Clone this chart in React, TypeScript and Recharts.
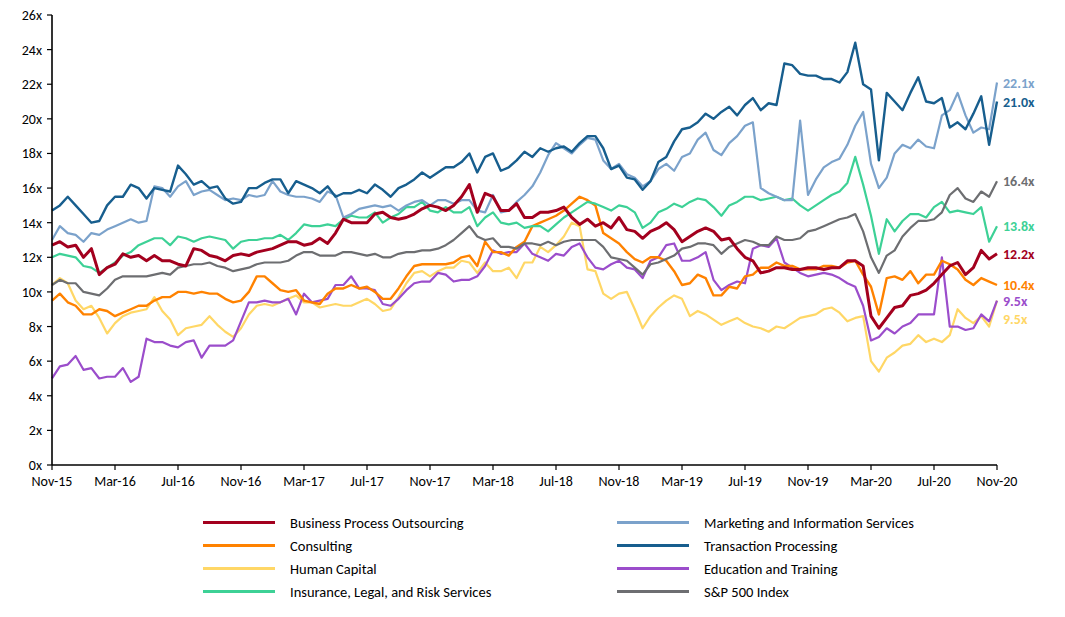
import React from "react";
import { LineChart, Line, XAxis, YAxis } from "recharts";

// semi-monthly observations, Nov-15 .. Nov-20 (121 points)
const MONTHS = ["Jan", "Feb", "Mar", "Apr", "May", "Jun", "Jul", "Aug", "Sep", "Oct", "Nov", "Dec"];
const Y_TICKS = [0, 2, 4, 6, 8, 10, 12, 14, 16, 18, 20, 22, 24, 26];

const BPO = [
  12.7, 12.9, 12.6, 12.7, 12.0, 12.5, 11.0, 11.4, 11.6, 12.2,
  12.0, 12.1, 11.8, 12.1, 11.8, 11.8, 11.6, 11.5, 12.5, 12.4,
  12.1, 12.0, 11.8, 12.1, 12.2, 12.1, 12.3, 12.4, 12.5, 12.7,
  12.9, 12.9, 12.7, 12.8, 13.1, 12.8, 13.4, 14.2, 14.0, 14.0,
  14.0, 14.5, 14.6, 14.3, 14.2, 14.3, 14.5, 14.8, 15.0, 14.9,
  14.7, 15.0, 15.5, 16.2, 14.6, 15.7, 15.5, 14.7, 14.7, 15.1,
  14.3, 14.3, 14.6, 14.6, 14.7, 14.9, 14.3, 13.9, 14.2, 13.8,
  14.0, 13.7, 14.3, 13.6, 13.5, 13.1, 13.5, 13.7, 14.0, 13.6,
  12.9, 13.2, 13.5, 13.7, 13.5, 13.0, 13.1, 12.5, 12.0, 11.8,
  11.1, 11.2, 11.4, 11.4, 11.3, 11.3, 11.4, 11.4, 11.3, 11.4,
  11.4, 11.8, 11.8, 11.5, 8.6, 7.9, 8.5, 9.1, 9.2, 9.8,
  9.9, 10.1, 10.5, 11.0, 11.5, 11.7, 11.0, 11.4, 12.4, 11.9, 12.2,
];

const CONSULTING = [
  9.5, 9.9, 9.4, 9.2, 8.7, 8.7, 9.0, 8.9, 8.6, 8.8,
  9.0, 9.2, 9.2, 9.5, 9.7, 9.7, 10.0, 10.0, 9.9, 10.0,
  9.9, 9.9, 9.6, 9.4, 9.5, 10.0, 10.9, 10.9, 10.5, 10.1,
  10.0, 10.1, 9.5, 9.4, 9.3, 9.9, 10.2, 10.2, 10.4, 10.2,
  10.3, 10.0, 9.6, 9.6, 10.2, 10.9, 11.5, 11.6, 11.6, 11.6,
  11.6, 11.7, 12.0, 12.1, 11.5, 12.9, 12.3, 12.3, 12.1, 12.6,
  12.9, 13.8, 14.0, 14.2, 14.4, 14.7, 15.1, 15.5, 15.3, 15.0,
  13.4, 13.1, 12.8, 12.3, 11.9, 11.7, 12.0, 12.0, 11.8, 11.2,
  10.4, 10.5, 11.0, 10.8, 9.8, 9.8, 10.3, 10.2, 10.9, 11.0,
  11.4, 11.4, 11.7, 11.5, 11.5, 11.3, 11.3, 11.3, 11.5, 11.5,
  11.4, 11.7, 11.8, 11.0, 10.3, 8.7, 10.8, 10.9, 10.7, 11.2,
  10.5, 11.0, 11.0, 11.8, 11.6, 11.3, 10.7, 10.4, 10.8, 10.6, 10.4,
];

const HUMAN_CAPITAL = [
  10.4, 10.8, 10.5, 9.5, 9.0, 9.2, 8.5, 7.6, 8.2, 8.6,
  8.8, 8.9, 9.0, 9.7, 8.9, 8.4, 7.5, 7.9, 8.0, 8.1,
  8.6, 8.1, 7.7, 7.4, 7.9, 8.7, 9.2, 9.3, 9.2, 9.4,
  9.6, 9.8, 9.4, 9.4, 9.1, 9.2, 9.3, 9.2, 9.2, 9.4,
  9.6, 9.3, 8.9, 9.0, 9.7, 10.5, 11.1, 11.2, 10.9, 11.2,
  11.4, 11.4, 11.8, 11.7, 11.1, 11.7, 11.2, 11.2, 11.4, 10.8,
  11.7, 11.7, 12.6, 12.3, 12.7, 13.2, 14.0, 13.8, 11.3, 11.2,
  9.9, 9.6, 9.9, 10.0, 9.0, 7.9, 8.6, 9.1, 9.5, 9.8,
  9.6, 8.6, 8.9, 8.7, 8.4, 8.1, 8.3, 8.5, 8.2, 8.0,
  7.9, 7.7, 8.0, 7.9, 8.2, 8.5, 8.6, 8.7, 9.0, 9.1,
  8.8, 8.3, 8.5, 8.6, 6.0, 5.4, 6.2, 6.5, 6.9, 7.0,
  7.5, 7.1, 7.3, 7.1, 7.5, 9.0, 8.5, 8.2, 8.6, 8.0, 9.5,
];

const INSURANCE = [
  12.0, 12.2, 12.1, 12.0, 11.5, 11.4, 11.1, 11.4, 11.7, 12.1,
  12.3, 12.7, 12.9, 13.1, 13.1, 12.7, 13.2, 13.1, 12.9, 13.1,
  13.2, 13.1, 13.0, 12.5, 12.9, 13.0, 13.0, 13.1, 13.1, 13.3,
  13.0, 13.4, 13.9, 13.8, 13.8, 13.9, 13.8, 14.2, 14.4, 14.3,
  14.3, 14.6, 14.0, 14.3, 14.5, 14.9, 14.9, 15.2, 14.7, 14.6,
  14.9, 14.6, 14.6, 14.9, 13.8, 14.3, 14.6, 14.0, 13.9, 14.0,
  13.7, 13.8, 13.8, 13.5, 13.9, 14.3, 14.6, 14.9, 15.2, 15.1,
  14.9, 14.7, 15.0, 14.9, 14.6, 13.7, 14.0, 14.6, 14.8, 15.1,
  14.9, 15.2, 15.4, 15.3, 14.9, 14.4, 15.0, 15.2, 15.5, 15.5,
  15.3, 15.4, 15.5, 15.3, 15.4, 15.0, 14.7, 15.0, 15.3, 15.6,
  15.8, 16.3, 17.8, 16.2, 14.4, 12.2, 14.2, 13.5, 14.1, 14.5,
  14.5, 14.3, 14.9, 15.2, 14.6, 14.7, 14.6, 14.5, 14.9, 12.9, 13.8,
];

const MARKETING = [
  13.0, 13.8, 13.4, 13.3, 12.9, 13.4, 13.3, 13.6, 13.8, 14.0,
  14.2, 14.0, 14.1, 16.1, 16.0, 15.5, 16.1, 16.4, 15.6, 15.8,
  15.9, 15.6, 15.3, 15.4, 15.3, 15.6, 15.5, 15.6, 16.4, 15.8,
  15.6, 15.5, 15.5, 15.4, 15.2, 15.8, 15.6, 14.3, 14.5, 14.8,
  14.9, 15.0, 14.9, 15.0, 14.7, 15.0, 15.2, 15.3, 15.0, 15.3,
  15.3, 15.1, 15.3, 15.3, 14.7, 14.6, 15.6, 14.6, 14.7, 15.2,
  15.6, 16.1, 16.9, 17.9, 18.6, 18.3, 18.0, 18.5, 18.9, 18.8,
  17.6, 17.1, 17.4, 16.8, 16.6, 16.1, 16.4, 17.1, 17.4, 17.0,
  17.8, 18.0, 18.8, 19.2, 18.2, 17.9, 18.6, 19.0, 19.6, 19.8,
  16.0, 15.7, 15.5, 15.3, 15.3, 19.9, 15.6, 16.5, 17.2, 17.5,
  17.7, 18.5, 19.6, 20.4, 17.4, 16.0, 16.6, 18.0, 18.5, 18.3,
  18.8, 18.4, 18.3, 20.2, 20.5, 21.5, 20.2, 19.2, 19.5, 19.4, 22.1,
];

const TRANSACTION = [
  14.7, 15.0, 15.5, 15.0, 14.5, 14.0, 14.1, 15.0, 15.5, 15.5,
  16.2, 16.0, 15.4, 16.0, 15.9, 15.8, 17.3, 16.8, 16.2, 16.4,
  16.0, 16.1, 15.4, 15.1, 15.2, 16.0, 16.0, 16.3, 16.5, 16.5,
  15.7, 16.4, 16.2, 16.0, 15.7, 16.1, 15.5, 15.7, 15.7, 15.9,
  15.7, 16.2, 15.9, 15.5, 16.0, 16.2, 16.5, 16.9, 16.6, 16.9,
  17.2, 17.2, 17.5, 18.0, 16.9, 17.8, 18.0, 17.0, 17.2, 17.6,
  18.1, 17.8, 18.3, 18.1, 18.3, 18.4, 18.1, 18.6, 19.0, 19.0,
  18.3, 17.1, 17.3, 16.6, 16.5, 15.9, 16.4, 17.5, 17.8, 18.7,
  19.4, 19.5, 19.8, 20.3, 20.0, 20.4, 20.7, 20.2, 20.8, 21.2,
  20.5, 20.9, 20.8, 23.2, 23.1, 22.6, 22.5, 22.5, 22.3, 22.3,
  22.1, 22.7, 24.4, 22.0, 21.7, 17.6, 21.5, 21.0, 20.5, 21.5,
  22.4, 21.0, 20.9, 21.2, 19.5, 19.8, 19.4, 20.3, 21.3, 18.5, 21.0,
];

const EDUCATION = [
  5.0, 5.7, 5.8, 6.3, 5.5, 5.6, 5.0, 5.1, 5.1, 5.6,
  4.8, 5.1, 7.3, 7.1, 7.1, 6.9, 6.8, 7.1, 7.2, 6.2,
  6.9, 6.9, 6.9, 7.2, 8.3, 9.4, 9.4, 9.5, 9.4, 9.4,
  9.6, 8.7, 9.9, 9.4, 9.5, 9.6, 10.4, 10.4, 10.9, 10.2,
  10.2, 10.1, 9.3, 9.2, 9.6, 10.1, 10.5, 10.6, 10.6, 11.1,
  11.0, 10.6, 10.7, 10.7, 10.9, 11.5, 12.4, 12.2, 12.3, 12.3,
  12.8, 12.2, 12.0, 11.8, 12.2, 12.1, 12.6, 12.8, 12.0, 11.4,
  11.3, 11.6, 11.8, 11.4, 11.3, 10.8, 11.8, 12.0, 12.7, 12.8,
  11.8, 11.8, 12.0, 12.3, 10.7, 10.1, 10.4, 10.6, 10.5, 12.5,
  12.7, 12.6, 13.1, 11.7, 11.4, 11.1, 10.9, 11.0, 11.1, 11.0,
  10.8, 10.5, 10.3, 9.2, 7.2, 7.4, 7.9, 7.6, 8.0, 8.2,
  8.7, 8.7, 8.7, 12.0, 8.0, 8.0, 7.8, 7.9, 8.7, 8.3, 9.5,
];

const SP500 = [
  10.4, 10.7, 10.5, 10.5, 10.0, 9.9, 9.8, 10.2, 10.7, 10.9,
  10.9, 10.9, 10.9, 11.0, 11.1, 11.0, 11.4, 11.5, 11.6, 11.6,
  11.7, 11.5, 11.4, 11.2, 11.3, 11.4, 11.6, 11.7, 11.7, 11.7,
  11.8, 12.1, 12.3, 12.3, 12.1, 12.1, 12.1, 12.3, 12.3, 12.2,
  12.1, 12.2, 12.0, 12.0, 12.2, 12.3, 12.3, 12.4, 12.4, 12.5,
  12.7, 13.0, 13.4, 13.8, 13.2, 13.0, 13.1, 12.6, 12.6, 12.5,
  12.8, 12.8, 12.7, 12.9, 12.7, 12.9, 13.0, 13.0, 13.0, 13.0,
  12.6, 12.0, 11.9, 11.8, 11.4, 11.0, 11.6, 11.7, 11.9, 12.1,
  12.5, 12.6, 12.8, 12.8, 12.7, 12.2, 12.6, 12.8, 13.0, 12.9,
  12.7, 12.7, 13.2, 13.0, 13.0, 13.1, 13.5, 13.6, 13.8, 14.0,
  14.2, 14.3, 14.5, 13.5, 12.0, 11.1, 12.1, 12.4, 13.2, 13.7,
  14.1, 14.1, 14.2, 14.6, 15.6, 16.0, 15.4, 15.2, 15.8, 15.5, 16.4,
];

const SERIES = [
  { key: "hc", name: "Human Capital", values: HUMAN_CAPITAL, color: "#FFD766", width: 2.2, labelDy: 18 },
  { key: "edu", name: "Education and Training", values: EDUCATION, color: "#9B4DCB", width: 2.2, labelDy: 0 },
  { key: "con", name: "Consulting", values: CONSULTING, color: "#FF8200", width: 2.4, labelDy: 0 },
  { key: "ins", name: "Insurance, Legal, and Risk Services", values: INSURANCE, color: "#3DD196", width: 2.2, labelDy: 0 },
  { key: "sp", name: "S&P 500 Index", values: SP500, color: "#6D6E71", width: 2.2, labelDy: 0 },
  { key: "mkt", name: "Marketing and Information Services", values: MARKETING, color: "#7BA2CB", width: 2.2, labelDy: 0 },
  { key: "tp", name: "Transaction Processing", values: TRANSACTION, color: "#175E8E", width: 2.4, labelDy: 0 },
  { key: "bpo", name: "Business Process Outsourcing", values: BPO, color: "#A3001E", width: 3, labelDy: 0 },
];

const LEGEND_LEFT = ["bpo", "con", "hc", "ins"];
const LEGEND_RIGHT = ["mkt", "tp", "edu", "sp"];

const FONT = "Carlito, Calibri, Lato, sans-serif";

function dateLabel(i: number) {
  const m = 10 + Math.floor(i / 2);
  const yr = 15 + Math.floor(m / 12);
  return `${MONTHS[m % 12]}-${yr}`;
}

const data = BPO.map((_, i) => {
  const row: Record<string, string | number> = { date: `${dateLabel(i)}${i % 2 ? " mid" : ""}` };
  SERIES.forEach((s) => {
    row[s.key] = s.values[i];
  });
  return row;
});

const LAST = BPO.length - 1;

function EndLabel(props: any, color: string, dy: number) {
  const { x, y, index, value } = props;
  if (index !== LAST) return null;
  return (
    <text x={x + 6} y={y + dy} dy={5} fill={color} fontSize={14} fontWeight={700} fontFamily={FONT}>
      {Number(value).toFixed(1)}x
    </text>
  );
}

function LegendItem({ k }: { k: string }) {
  const s = SERIES.find((d) => d.key === k)!;
  return (
    <div style={{ display: "flex", alignItems: "center", height: 23 }}>
      <div style={{ width: 72, height: 3, background: s.color, marginRight: 15 }} />
      <span style={{ fontSize: 14.5, color: "#000" }}>{s.name}</span>
    </div>
  );
}

export default function App() {
  return (
    <div style={{ position: "relative", width: 1050, height: 605, fontFamily: FONT }}>
      <LineChart width={1050} height={500} data={data} margin={{ top: 7, right: 61, left: 0, bottom: 13 }}>
        <XAxis
          dataKey="date"
          interval={7}
          tickFormatter={(v: string) => v.replace(" mid", "")}
          axisLine={{ stroke: "#000", strokeWidth: 1.6 }}
          tickLine={{ stroke: "#000", strokeWidth: 1.2 }}
          tickSize={5}
          tickMargin={6}
          tick={{ fill: "#000", fontSize: 14, fontFamily: FONT }}
          height={30}
        />
        <YAxis
          domain={[0, 26]}
          ticks={Y_TICKS}
          interval={0}
          tickFormatter={(v: number) => `${v}x`}
          axisLine={{ stroke: "#000", strokeWidth: 1.6 }}
          tickLine={{ stroke: "#000", strokeWidth: 1.2 }}
          tickSize={5}
          tickMargin={5}
          tick={{ fill: "#000", fontSize: 14, fontFamily: FONT }}
          width={44}
        />
        {SERIES.map((s) => (
          <Line
            key={s.key}
            type="linear"
            dataKey={s.key}
            name={s.name}
            stroke={s.color}
            strokeWidth={s.width}
            strokeLinejoin="round"
            dot={false}
            activeDot={false}
            isAnimationActive={false}
            label={(p: any) => EndLabel(p, s.color, s.labelDy)}
          />
        ))}
      </LineChart>
      <div style={{ position: "absolute", top: 503, left: 195, display: "flex" }}>
        <div style={{ width: 414 }}>
          {LEGEND_LEFT.map((k) => (
            <LegendItem key={k} k={k} />
          ))}
        </div>
        <div>
          {LEGEND_RIGHT.map((k) => (
            <LegendItem key={k} k={k} />
          ))}
        </div>
      </div>
    </div>
  );
}
